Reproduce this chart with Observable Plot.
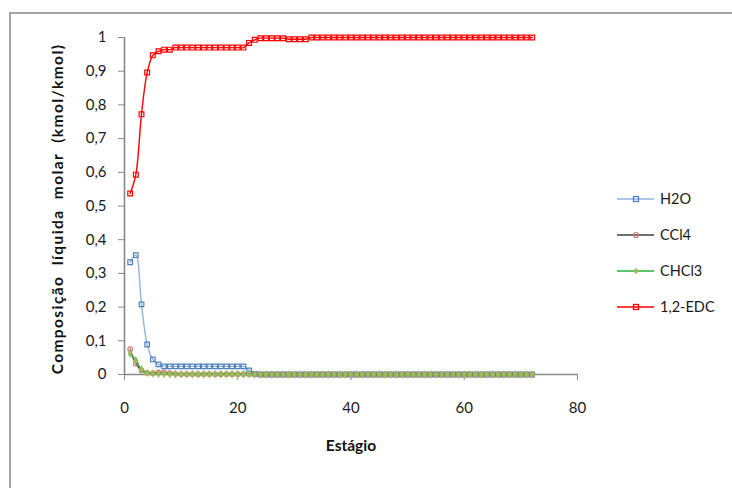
<!DOCTYPE html>
<html>
<head>
<meta charset="utf-8">
<script src="https://cdn.jsdelivr.net/npm/d3@7"></script>
<script src="https://cdn.jsdelivr.net/npm/@observablehq/plot@0.6"></script>
<style>
  html, body { margin: 0; padding: 0; background: #fff; }
  #wrap { position: relative; width: 732px; height: 488px; overflow: hidden; font-family: Lato, "Open Sans", sans-serif; }
  #frame { position: absolute; left: 9px; top: 12px; width: 740px; height: 490px; border-top: 2px solid #a6a6a6; border-left: 2px solid #a6a6a6; }
  #legend { position: absolute; left: 612px; top: 186px; font-size: 14.5px; color: #1a1a1a; }
  .item { position: absolute; left: 0; height: 26px; width: 120px; }
  .item svg { position: absolute; left: 0; top: 0; }
  .item span { position: absolute; left: 48px; top: 4px; white-space: nowrap; }
</style>
</head>
<body>
<div id="wrap">
  <div id="frame"></div>
  <div id="chart"></div>
  <div id="legend"></div>
</div>
<script>
// Stage numbers (x)
const stages = [1,2,3,4,5,6,7,8,9,10,11,12,13,14,15,16,17,18,19,20,21,22,23,24,25,26,27,28,29,30,31,32,33,34,35,36,37,38,39,40,41,42,43,44,45,46,47,48,49,50,51,52,53,54,55,56,57,58,59,60,61,62,63,64,65,66,67,68,69,70,71,72];

const seriesNames = ["H2O", "CCl4", "CHCl3", "1,2-EDC"];

const h2o = [0.333,0.354,0.208,0.089,0.045,0.030,0.024,0.024,0.024,0.024,0.024,0.024,0.024,0.024,0.024,0.024,0.024,0.024,0.024,0.024,0.024,0.012,0.002,0,0,0,0,0,0,0,0,0,0,0,0,0,0,0,0,0,0,0,0,0,0,0,0,0,0,0,0,0,0,0,0,0,0,0,0,0,0,0,0,0,0,0,0,0,0,0,0,0];

const ccl4 = [0.075,0.032,0.012,0.005,0.004,0.006,0.006,0.004,0.002,0.001,0.001,0.001,0.001,0.001,0.001,0.001,0.001,0.001,0.001,0.001,0.001,0.001,0,0,0,0,0,0,0,0,0,0,0,0,0,0,0,0,0,0,0,0,0,0,0,0,0,0,0,0,0,0,0,0,0,0,0,0,0,0,0,0,0,0,0,0,0,0,0,0,0,0];

const chcl3 = [0.062,0.042,0.015,0.005,0.003,0.002,0.002,0.001,0.001,0.001,0.001,0.001,0.001,0.001,0.001,0.001,0.001,0.001,0.001,0.001,0.001,0.001,0,0,0,0,0,0,0,0,0,0,0,0,0,0,0,0,0,0,0,0,0,0,0,0,0,0,0,0,0,0,0,0,0,0,0,0,0,0,0,0,0,0,0,0,0,0,0,0,0,0];

const edc = [0.537,0.593,0.772,0.896,0.947,0.959,0.964,0.964,0.970,0.970,0.970,0.970,0.970,0.970,0.970,0.970,0.970,0.970,0.970,0.970,0.970,0.984,0.993,0.998,0.998,0.998,0.998,0.998,0.995,0.995,0.995,0.995,1.0,1.0,1.0,1.0,1.0,1.0,1.0,1.0,1.0,1.0,1.0,1.0,1.0,1.0,1.0,1.0,1.0,1.0,1.0,1.0,1.0,1.0,1.0,1.0,1.0,1.0,1.0,1.0,1.0,1.0,1.0,1.0,1.0,1.0,1.0,1.0,1.0,1.0,1.0,1.0];

const xTicks = [0, 20, 40, 60, 80];
const yTicks = [0, 0.1, 0.2, 0.3, 0.4, 0.5, 0.6, 0.7, 0.8, 0.9, 1];

const yLabel = "Composição  líquida  molar  (kmol/kmol)";
const xLabel = "Estágio";

const styles = {
  "H2O":     {line: "#95b3e0", mark: "#4f81bd", symbol: "square",  fill: "none",    r: 2.6},
  "CCl4":    {line: "#404040", mark: "#d07a78", symbol: "circle",  fill: "none",    r: 2.3},
  "CHCl3":   {line: "#22b33a", mark: "#9bbb59", symbol: "diamond", fill: "#9bbb59", r: 1.9},
  "1,2-EDC": {line: "#ff0000", mark: "#ff0000", symbol: "square",  fill: "none",    r: 2.7}
};

const valuesByName = {"H2O": h2o, "CCl4": ccl4, "CHCl3": chcl3, "1,2-EDC": edc};
const drawOrder = ["1,2-EDC", "H2O", "CCl4", "CHCl3"];

const marks = [];
for (const name of drawOrder) {
  const vals = valuesByName[name];
  const data = stages.map((s, i) => ({stage: s, value: vals[i]}));
  const st = styles[name];
  marks.push(Plot.line(data, {x: "stage", y: "value", stroke: st.line, strokeWidth: 1.4, curve: "catmull-rom"}));
  marks.push(Plot.dot(data, {x: "stage", y: "value", symbol: () => st.symbol, stroke: st.mark, fill: st.fill, r: st.r, strokeWidth: 1.2}));
}

const fmt = d => d === 0 ? "0" : d === 1 ? "1" : d.toFixed(1).replace(".", ",");

const chart = Plot.plot({
  width: 732,
  height: 488,
  marginLeft: 124,
  marginRight: 155,
  marginTop: 37,
  marginBottom: 114,
  style: {fontFamily: "Lato, 'Open Sans', sans-serif", fontSize: "15px", background: "transparent", color: "#1a1a1a"},
  x: {domain: [0, 80]},
  y: {domain: [0, 1]},
  marks: [
    Plot.axisX({ticks: xTicks, tickSize: 6, tickPadding: 22, stroke: "#888", fill: "#1a1a1a", label: null, fontSize: 15}),
    Plot.axisY({ticks: yTicks, tickSize: 6, tickPadding: 12, stroke: "#888", fill: "#1a1a1a", tickFormat: fmt, label: null, fontSize: 15}),
    Plot.ruleY([0], {stroke: "#888", strokeWidth: 1.6}),
    Plot.ruleX([0], {stroke: "#888", strokeWidth: 1.6}),
    ...marks,
    Plot.text([yLabel], {text: d => d, frameAnchor: "middle", rotate: -90, dx: -293, dy: 3, fontWeight: "bold", fontSize: 15.5, fill: "#111", style: "letter-spacing: 1.3px"}),
    Plot.text([xLabel], {text: d => d, frameAnchor: "bottom", dy: 76, fontWeight: "bold", fontSize: 15.5, fill: "#111"})
  ]
});
document.getElementById("chart").appendChild(chart);
// widen the rotated axis title like the reference
chart.querySelectorAll("text").forEach(t => { if (t.textContent === yLabel) t.setAttribute("letter-spacing", "1.4"); });

// Legend
const legend = document.getElementById("legend");
seriesNames.forEach((name, i) => {
  const st = styles[name];
  const item = document.createElement("div");
  item.className = "item";
  item.style.top = (i * 36) + "px";
  const sym = st.symbol === "square"
    ? `<rect x="21.5" y="10.5" width="5" height="5" fill="${st.fill}" stroke="${st.mark}" stroke-width="1.3"/>`
    : st.symbol === "circle"
    ? `<circle cx="24" cy="13" r="2.5" fill="none" stroke="${st.mark}" stroke-width="1.2"/>`
    : `<path d="M24,10.5 L26.5,13 L24,15.5 L21.5,13 Z" fill="${st.fill}" stroke="${st.mark}"/>`;
  item.innerHTML = `<svg width="46" height="26"><line x1="5" y1="13" x2="42" y2="13" stroke="${st.line}" stroke-width="1.4"/>${sym}</svg><span>${name}</span>`;
  legend.appendChild(item);
});
</script>
</body>
</html>
